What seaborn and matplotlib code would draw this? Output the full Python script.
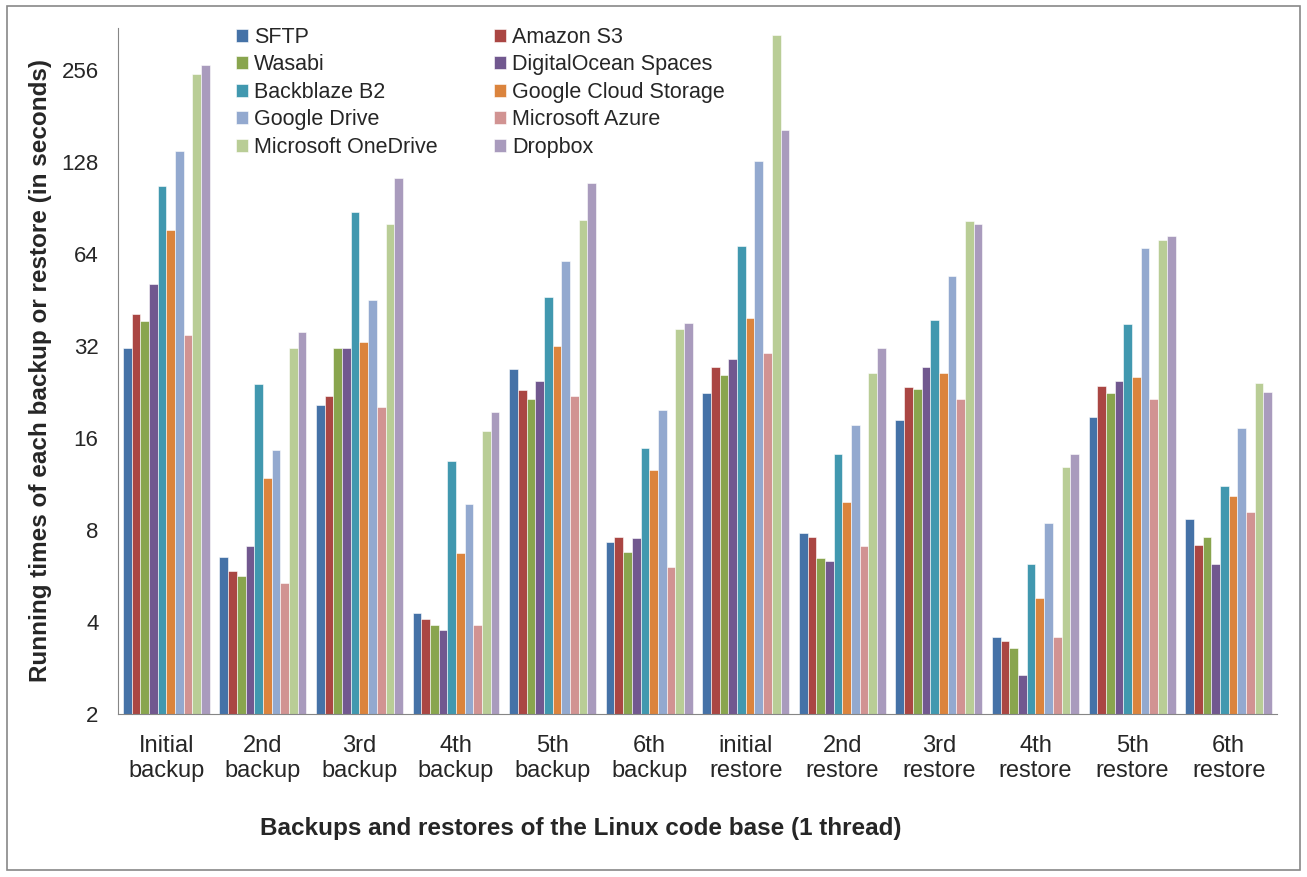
import pandas as pd
import matplotlib
matplotlib.use('agg')
import matplotlib.pyplot as plt
import matplotlib.patches as patches
from matplotlib.ticker import FixedLocator, NullFormatter
import seaborn as sns

# Data (seconds, log2 axis)
operations = ["Initial\nbackup", "2nd\nbackup", "3rd\nbackup", "4th\nbackup", "5th\nbackup", "6th\nbackup",
              "initial\nrestore", "2nd\nrestore", "3rd\nrestore", "4th\nrestore", "5th\nrestore", "6th\nrestore"]
providers = ["SFTP", "Amazon S3", "Wasabi", "DigitalOcean Spaces", "Backblaze B2",
             "Google Cloud Storage", "Google Drive", "Microsoft Azure", "Microsoft OneDrive", "Dropbox"]

sftp = [31.4, 6.5, 20.5, 4.27, 26.8, 7.3, 22.4, 7.8, 18.3, 3.56, 18.7, 8.7]
amazon_s3 = [40.8, 5.85, 21.9, 4.08, 22.9, 7.6, 27.4, 7.6, 23.4, 3.47, 23.7, 7.15]
wasabi = [38.5, 5.65, 31.4, 3.9, 21.4, 6.77, 25.7, 6.47, 23.2, 3.29, 22.4, 7.56]
digitalocean = [51.1, 7.08, 31.4, 3.76, 24.5, 7.5, 29.0, 6.33, 27.4, 2.68, 24.5, 6.19]
backblaze_b2 = [106.6, 24.0, 87.9, 13.45, 46.2, 14.8, 67.7, 14.2, 39.0, 6.19, 37.8, 11.1]
google_cloud = [76.8, 11.8, 32.9, 6.7, 31.9, 12.6, 39.5, 9.84, 26.0, 4.78, 25.3, 10.3]
google_drive = [139.5, 14.6, 45.1, 9.71, 60.5, 19.8, 129.0, 17.6, 54.0, 8.4, 67.0, 17.3]
azure = [34.8, 5.35, 20.2, 3.9, 21.9, 6.05, 30.3, 7.08, 21.4, 3.56, 21.4, 9.17]
onedrive = [248.0, 31.4, 80.3, 16.9, 82.4, 36.4, 333.0, 26.0, 81.9, 12.86, 71.2, 24.2]
dropbox = [266.0, 35.5, 113.8, 19.4, 109.0, 38.1, 163.0, 31.4, 80.1, 14.2, 73.4, 22.6]

series = [sftp, amazon_s3, wasabi, digitalocean, backblaze_b2,
          google_cloud, google_drive, azure, onedrive, dropbox]
colors = ["#4572A7", "#AA4643", "#89A54E", "#71588F", "#4198AF",
          "#DB843D", "#93A9CF", "#D19392", "#B9CD96", "#A99BBD"]

rows = []
for name, vals in zip(providers, series):
    for op, v in zip(operations, vals):
        rows.append({"Operation": op, "Provider": name, "Seconds": v})
df = pd.DataFrame(rows)

sns.set_style("white")
plt.rcParams['font.family'] = ['Liberation Sans', 'DejaVu Sans']

fig = plt.figure(figsize=(13.07, 8.77), dpi=100)
ax = fig.add_axes([0.0903, 0.186, 0.8867, 0.782])

sns.barplot(data=df, x="Operation", y="Seconds", hue="Provider", order=operations,
            hue_order=providers, palette=colors, width=0.9, saturation=1,
            edgecolor="white", linewidth=0.4, ax=ax)

ax.set_yscale("log", base=2)
ax.set_ylim(2, 351)
ax.yaxis.set_major_locator(FixedLocator([2, 4, 8, 16, 32, 64, 128, 256]))
ax.set_yticklabels(["2", "4", "8", "16", "32", "64", "128", "256"])
ax.yaxis.set_minor_formatter(NullFormatter())
ax.tick_params(axis="y", which="minor", length=0)

ax.set_xlim(-0.5, len(operations) - 0.5)
ax.set_xticks([i - 0.5 for i in range(len(operations) + 1)])
ax.set_xticklabels([])
ax.set_xticks(range(len(operations)), minor=True)
ax.set_xticklabels(operations, minor=True)
ax.tick_params(axis="x", which="minor", length=0, pad=15, labelsize=17)
ax.tick_params(axis="x", which="major", length=6, color="#868686", direction="out")
ax.tick_params(axis="y", which="major", length=6, color="#868686", direction="out", labelsize=16, pad=8)

for s in ["top", "right"]:
    ax.spines[s].set_visible(False)
for s in ["left", "bottom"]:
    ax.spines[s].set_color("#868686")

ax.set_ylabel("Running times of each backup or restore (in seconds)", fontsize=17.5, fontweight="bold")
ax.yaxis.set_label_coords(-0.057, 0.5)
ax.set_xlabel("Backups and restores of the Linux code base (1 thread)", fontsize=17.5, fontweight="bold")
ax.xaxis.set_label_coords(0.399, -0.15)

handles, labels = ax.get_legend_handles_labels()
order = [0, 2, 4, 6, 8, 1, 3, 5, 7, 9]
ax.legend([handles[i] for i in order], [labels[i] for i in order], ncol=2, frameon=False,
          loc="upper left", bbox_to_anchor=(0.085, 1.03), fontsize=15.5,
          handlelength=0.55, handleheight=0.55, handletextpad=0.3,
          columnspacing=2.6, labelspacing=0.3)

fig.patches.append(patches.Rectangle((0.005, 0.008), 0.99, 0.985, transform=fig.transFigure,
                                     fill=False, edgecolor="#888888", linewidth=1.2))

fig.savefig("out.png", dpi=100)
